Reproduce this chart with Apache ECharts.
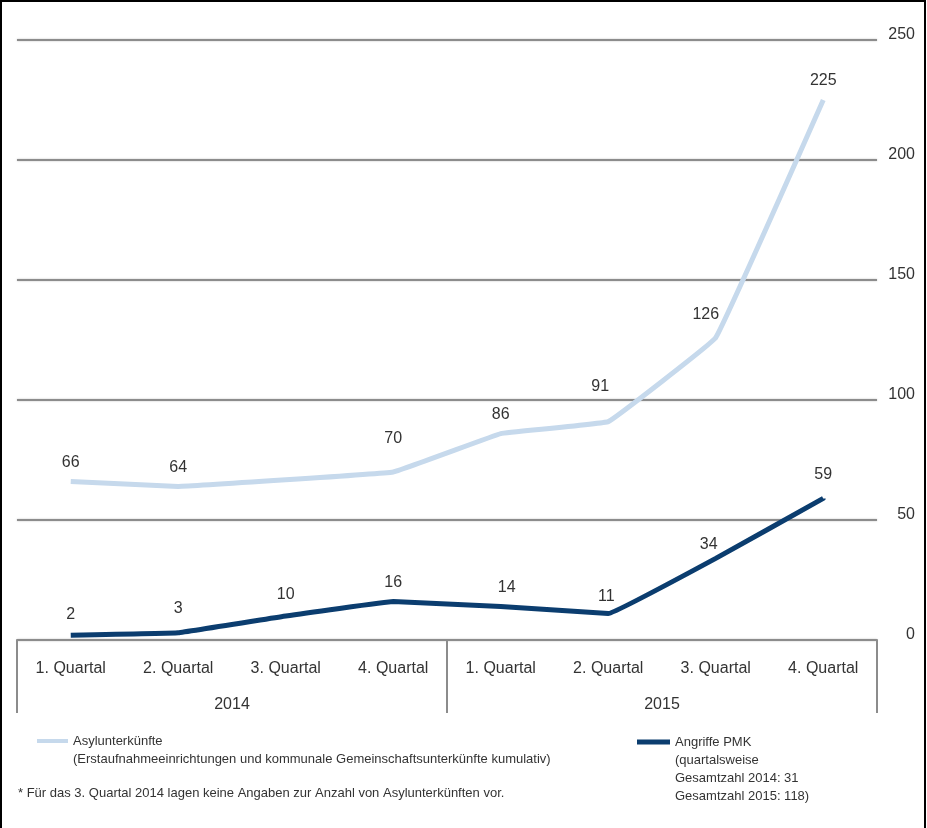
<!DOCTYPE html>
<html>
<head>
<meta charset="utf-8">
<script src="https://cdn.jsdelivr.net/npm/echarts@6/dist/echarts.min.js"></script>
<style>
  html, body { margin: 0; padding: 0; background: #fff; }
  #main { width: 927px; height: 828px; }
</style>
</head>
<body>
<div id="main"></div>
<script>
// Quartale 2014/2015
var quarters = ['1. Quartal', '2. Quartal', '3. Quartal', '4. Quartal', '1. Quartal', '2. Quartal', '3. Quartal', '4. Quartal'];
var years = ['2014', '2015'];
// Asylunterkünfte (3. Quartal 2014 ohne Angabe)
var asylValues = [66, 64, null, 70, 86, 91, 126, 225];
// Angriffe PMK
var pmkValues = [2, 3, 10, 16, 14, 11, 34, 59];
var yTicks = [0, 50, 100, 150, 200, 250];

// kleine Verschiebungen der Wertelabels wie im Original
var asylLabelOffset = [[0, 0], [0, 0], [0, 0], [0, -14], [0, 0], [-8, -16], [-10, -4], [0, 0]];
var pmkLabelOffset = [[0, -2], [0, -5], [0, -2], [0, 0], [6, 0], [-2, 2], [-7, 5], [0, -5]];

var nameAsyl = 'Asylunterkünfte';
var namePmk = 'Angriffe PMK';
var subAsyl = ['(Erstaufnahmeeinrichtungen und kommunale Gemeinschaftsunterkünfte kumulativ)'];
var subPmk = ['(quartalsweise', 'Gesamtzahl 2014: 31', 'Gesamtzahl 2015: 118)'];
var footnote = '* Für das 3. Quartal 2014 lagen keine Angaben zur Anzahl von Asylunterkünften vor.';

var font = 'Liberation Sans, Arial, sans-serif';
var gray = '#8c8c8c';

// legend text: blank lines on top so the icon sits next to the first line
function legendText(name, sub) {
  var lines = [name].concat(sub);
  var pad = [];
  for (var i = 0; i < lines.length - 1; i++) pad.push(' ');
  return pad.concat(lines).join('\n');
}

function withOffsets(values, offsets) {
  return values.map(function (v, i) {
    if (v === null) return null;
    return { value: v, label: { offset: offsets[i] } };
  });
}

var chart = echarts.init(document.getElementById('main'));

var option = {
  backgroundColor: '#fff',
  animation: false,
  grid: { left: 17, right: 50, top: 40, bottom: 188 },
  legend: [
    {
      data: [nameAsyl],
      left: 37, top: 714, padding: 0,
      icon: 'rect', itemWidth: 31, itemHeight: 4,
      selectedMode: false,
      formatter: function (n) { return legendText(n, subAsyl); },
      textStyle: { fontFamily: font, fontSize: 13, lineHeight: 18, color: '#333' }
    },
    {
      data: [namePmk],
      left: 637, top: 679, padding: 0,
      icon: 'rect', itemWidth: 33, itemHeight: 5,
      selectedMode: false,
      formatter: function (n) { return legendText(n, subPmk); },
      textStyle: { fontFamily: font, fontSize: 13, lineHeight: 18, color: '#333' }
    }
  ],
  xAxis: [
    {
      type: 'category',
      data: quarters,
      boundaryGap: true,
      axisLine: { show: true, lineStyle: { color: gray, width: 2 } },
      axisTick: { show: false },
      axisLabel: { margin: 21, fontFamily: font, fontSize: 16, color: '#333', interval: 0 }
    },
    {
      type: 'category',
      data: years,
      position: 'bottom',
      boundaryGap: true,
      axisLine: { show: false },
      axisTick: { show: true, length: 73, interval: 0, lineStyle: { color: gray, width: 2 } },
      axisLabel: { margin: 57, fontFamily: font, fontSize: 16, color: '#333' }
    }
  ],
  yAxis: {
    type: 'value',
    position: 'right',
    min: yTicks[0],
    max: yTicks[yTicks.length - 1],
    interval: 50,
    axisLine: { show: false },
    axisTick: { show: false },
    axisLabel: {
      margin: 38, align: 'right',
      formatter: '{v|{value}}',
      rich: { v: { fontFamily: font, fontSize: 16, color: '#333', padding: [0, 0, 11, 0] } }
    },
    splitLine: {
      show: true,
      lineStyle: { color: gray, width: 2, shadowBlur: 2, shadowColor: 'rgba(0,0,0,0.25)' }
    }
  },
  series: [
    {
      name: nameAsyl,
      type: 'line',
      data: withOffsets(asylValues, asylLabelOffset),
      connectNulls: true,
      smooth: 0.05,
      symbol: 'circle',
      symbolSize: 0,
      color: '#c6d9ec',
      lineStyle: { color: '#c6d9ec', width: 5 },
      label: { show: true, position: 'top', distance: 11, fontFamily: font, fontSize: 16, color: '#333' }
    },
    {
      name: namePmk,
      type: 'line',
      data: withOffsets(pmkValues, pmkLabelOffset),
      smooth: 0.05,
      symbol: 'circle',
      symbolSize: 0,
      color: '#0b3d6f',
      lineStyle: { color: '#0b3d6f', width: 5 },
      label: { show: true, position: 'top', distance: 11, fontFamily: font, fontSize: 16, color: '#333' }
    }
  ],
  graphic: [
    {
      type: 'text', left: 18, top: 787,
      style: { text: footnote, fontFamily: font, fontSize: 13, fill: '#333' }
    },
    {
      type: 'rect', shape: { x: 1, y: 1, width: 924, height: 860 },
      style: { fill: 'none', stroke: '#000', lineWidth: 2 }, silent: true
    }
  ]
};

chart.setOption(option);
</script>
</body>
</html>
